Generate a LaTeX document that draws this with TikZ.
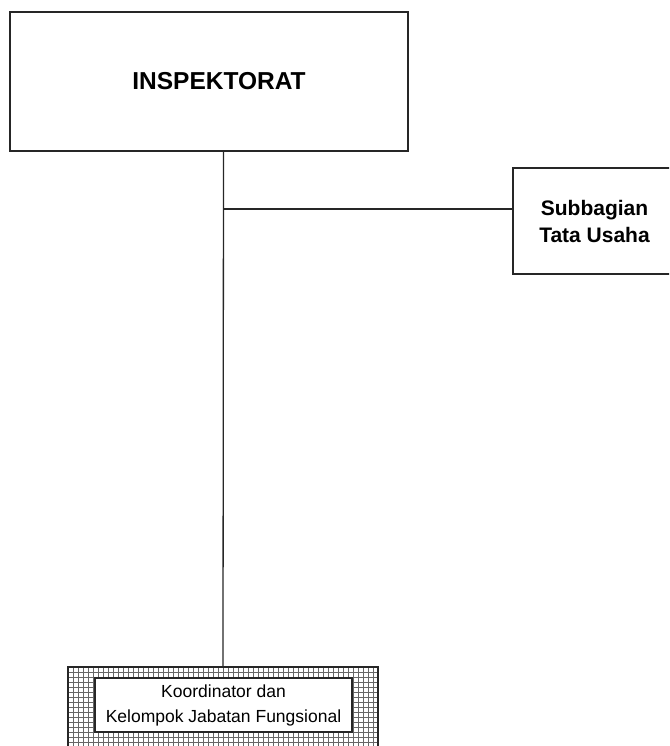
\documentclass[tikz,border=0pt]{standalone}
\usepackage{fontspec}
\setmainfont{Liberation Sans}
\begin{document}
\begin{tikzpicture}[x=1pt,y=-1pt,
  box/.style={draw=black!85, line width=1.5pt, fill=white, inner sep=0pt, align=center},
  conn/.style={draw=black!85, line width=1.3pt},
  hatchbox/.style={draw=black!85, line width=1.5pt, fill=white, inner sep=0pt,
    path picture={\draw[black!60, line width=1pt, step=5pt]
      (path picture bounding box.south west) grid (path picture bounding box.north east);}}]
\useasboundingbox (0,0) rectangle (669,746);
\clip (0,0) rectangle (669,746);
\node[box, minimum width=398pt, minimum height=139pt,
  font=\bfseries\fontsize{24.5}{28}\selectfont] (insp) at (209,81.5) {\hspace*{20pt}INSPEKTORAT};
\node[box, minimum width=163pt, minimum height=106pt,
  font=\bfseries\fontsize{21}{27}\selectfont] (sub) at (594.5,221) {Subbagian\\Tata Usaha};
\node[hatchbox, minimum width=310pt, minimum height=90pt] (outer) at (223,712) {};
\node[box, line width=1.2pt, minimum width=257pt, minimum height=54pt,
  font=\fontsize{17.5}{25}\selectfont] (kjf) at (223.5,705)
  {Koordinator dan\\Kelompok Jabatan Fungsional};
\coordinate (top) at (insp.south -| kjf.north);
\coordinate (sj) at ([yshift=12pt]sub.west);
\coordinate (j) at (kjf.north |- sj);
\draw[conn] (top) -- (outer.north);
\draw[conn] (j) -- (sj);
\end{tikzpicture}
\end{document}
